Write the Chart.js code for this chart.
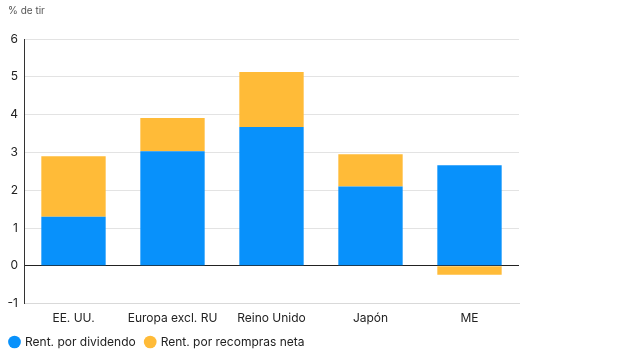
<!DOCTYPE html>
<html>
<head>
<meta charset="utf-8">
<script src="https://cdn.jsdelivr.net/npm/chart.js@4"></script>
<style>
  html, body { margin: 0; padding: 0; background: #fff; }
  #wrap { position: relative; width: 640px; height: 360px; }
  #unidad { position: absolute; left: 8px; top: 4px; font: 10px Inter, sans-serif; color: #555; }
</style>
</head>
<body>
<div id="wrap">
  <div id="unidad">% de tir</div>
  <canvas id="chart"></canvas>
</div>
<script>
// datos
const regiones = ["EE. UU.", "Europa excl. RU", "Reino Unido", "Japón", "ME"];
const rentDividendo = [1.30, 3.03, 3.67, 2.10, 2.66];
const rentRecompras = [1.60, 0.88, 1.46, 0.85, -0.24];

const azul = "#0891fb";
const amarillo = "#ffbb38";

const ctx = document.getElementById("chart").getContext("2d");
new Chart(ctx, {
  type: "bar",
  data: {
    labels: regiones,
    datasets: [
      { label: "Rent. por dividendo", data: rentDividendo, backgroundColor: azul, stack: "s" },
      { label: "Rent. por recompras neta", data: rentRecompras, backgroundColor: amarillo, stack: "s" }
    ]
  },
  options: {
    responsive: true,
    maintainAspectRatio: false,
    animation: false,
    barPercentage: 0.65,
    categoryPercentage: 1,
    layout: { padding: { left: 0, right: 121, top: 39, bottom: 2 } },
    plugins: {
      legend: {
        position: "bottom",
        align: "start",
        labels: {
          usePointStyle: true,
          pointStyle: "circle",
          boxWidth: 9,
          boxHeight: 9,
          color: "#222",
          font: { family: "Inter", size: 12 },
          padding: 10
        }
      },
      tooltip: { enabled: false }
    },
    scales: {
      x: {
        stacked: true,
        grid: { display: false },
        border: { display: true, color: "#d9d9d9" },
        ticks: { color: "#222", font: { family: "Inter", size: 12 }, padding: 0 }
      },
      y: {
        stacked: true,
        min: -1,
        max: 6,
        ticks: { stepSize: 1, color: "#222", font: { family: "Inter", size: 12 }, padding: 6 },
        grid: {
          color: c => c.tick.value === 0 ? "#222" : "#e3e3e3",
          lineWidth: 1,
          drawTicks: false
        },
        border: { display: true, color: "#333" },
        afterFit: s => { s.width = 24; }
      }
    }
  }
});
</script>
</body>
</html>
